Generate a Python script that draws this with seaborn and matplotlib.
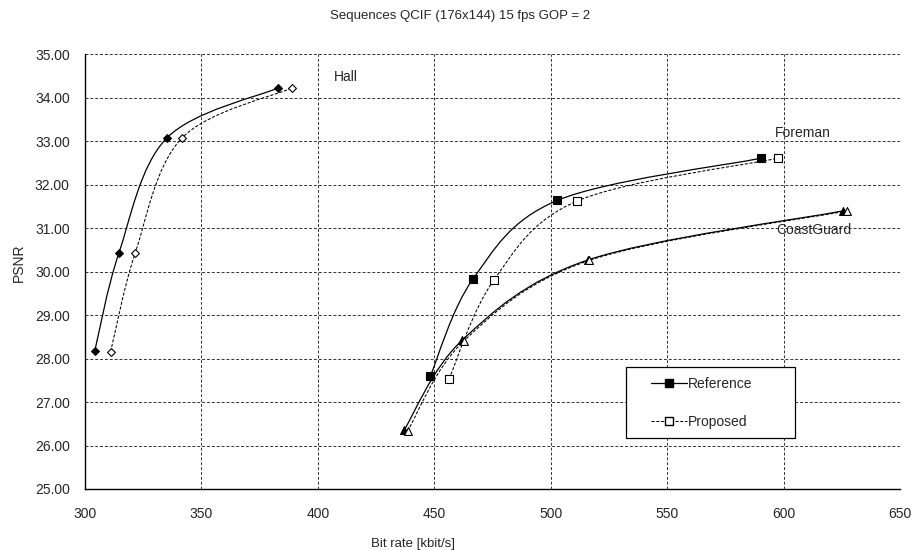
import numpy as np
import pandas as pd
import matplotlib
matplotlib.use("Agg")
import matplotlib.pyplot as plt
import seaborn as sns
from matplotlib.path import Path
from matplotlib.patches import PathPatch, Rectangle
from matplotlib.lines import Line2D

# valeurs
hall_ref_rate = [304.2, 314.5, 335.0, 383.0]
hall_ref_psnr = [28.18, 30.42, 33.07, 34.23]
hall_prop_rate = [311.0, 321.5, 341.5, 389.0]
hall_prop_psnr = [28.16, 30.42, 33.07, 34.23]

foreman_ref_rate = [448.3, 466.6, 502.8, 590.1]
foreman_ref_psnr = [27.60, 29.83, 31.64, 32.61]
foreman_prop_rate = [456.3, 475.5, 511.5, 597.4]
foreman_prop_psnr = [27.53, 29.80, 31.63, 32.61]

coast_ref_rate = [437.0, 462.1, 516.0, 625.6]
coast_ref_psnr = [26.35, 28.43, 30.27, 31.40]
coast_prop_rate = [438.5, 462.8, 516.6, 627.4]
coast_prop_psnr = [26.33, 28.41, 30.26, 31.40]

y_ticks = [25, 26, 27, 28, 29, 30, 31, 32, 33, 34, 35]
x_ticks = [300, 350, 400, 450, 500, 550, 600, 650]

series = [
    ("Hall", "Reference", hall_ref_rate, hall_ref_psnr, "D", 16),
    ("Hall", "Proposed", hall_prop_rate, hall_prop_psnr, "D", 16),
    ("Foreman", "Reference", foreman_ref_rate, foreman_ref_psnr, "s", 28),
    ("Foreman", "Proposed", foreman_prop_rate, foreman_prop_psnr, "s", 28),
    ("CoastGuard", "Reference", coast_ref_rate, coast_ref_psnr, "^", 32),
    ("CoastGuard", "Proposed", coast_prop_rate, coast_prop_psnr, "^", 32),
]


def smooth_path(x, y):
    # courbe lissée facon tableur (bezier type catmull-rom)
    pts = np.column_stack([x, y])
    n = len(pts)
    verts = [pts[0]]
    codes = [Path.MOVETO]
    for i in range(n - 1):
        p0 = pts[max(i - 1, 0)]
        p1 = pts[i]
        p2 = pts[i + 1]
        p3 = pts[min(i + 2, n - 1)]
        verts += [p1 + (p2 - p0) / 6, p2 - (p3 - p1) / 6, p2]
        codes += [Path.CURVE4] * 3
    return Path(verts, codes)


sns.set_style("white")
plt.rcParams['font.family'] = ['Liberation Sans', 'DejaVu Sans']

fig = plt.figure(figsize=(9.21, 5.5), dpi=100)
ax = fig.add_axes([0.0923, 0.111, 0.8849, 0.790])

dash = (0, (3, 1.6))
for seq, method, rate, psnr, marker, size in series:
    ref = method == "Reference"
    ls = "-" if ref else dash
    lw = 0.9 if ref else 0.75
    ax.add_patch(PathPatch(smooth_path(rate, psnr), facecolor="none",
                           edgecolor="black", lw=lw, linestyle=ls, zorder=3))
    df = pd.DataFrame({"rate": rate, "psnr": psnr})
    sns.scatterplot(data=df, x="rate", y="psnr", ax=ax, marker=marker, s=size,
                    color="black" if ref else "white", edgecolor="black",
                    linewidth=0.8, zorder=4)

ax.set_xlim(300, 650)
ax.set_ylim(25, 35)
ax.set_xticks(x_ticks)
ax.set_yticks(y_ticks)
ax.set_yticklabels([f"{v:.2f}" for v in y_ticks])
ax.tick_params(axis="y", length=5, width=0.8, direction="out", pad=6, labelsize=10, color="black")
ax.tick_params(axis="x", length=0, pad=13, labelsize=10)
ax.grid(True, color="#333333", linestyle=(0, (3, 2)), linewidth=0.7)
ax.set_axisbelow(True)
for s in ["top", "right"]:
    ax.spines[s].set_visible(False)
for s in ["left", "bottom"]:
    ax.spines[s].set_color("black")
    ax.spines[s].set_linewidth(1.0)

ax.set_xlabel("Bit rate [kbit/s]", fontsize=9.5)
ax.xaxis.set_label_coords(0.402, -0.112)
ax.set_ylabel("PSNR", fontsize=10)
ax.yaxis.set_label_coords(-0.073, 0.52)

ax.text(406.9, 34.48, "Hall", fontsize=10, va="center", ha="left")
ax.text(596.3, 33.2, "Foreman", fontsize=10, va="center", ha="left")
ax.text(596.7, 30.96, "CoastGuard", fontsize=10, va="center", ha="left")

fig.suptitle("Sequences QCIF (176x144) 15 fps GOP = 2", fontsize=9.5, x=0.5, y=0.982)

# cadre de la légende (taille fixe comme dans le tableur)
ax.add_patch(Rectangle((0.664, 0.117), 0.207, 0.163, transform=ax.transAxes,
                       facecolor="white", edgecolor="black", lw=0.9, zorder=5))
handles = [
    Line2D([], [], color="black", lw=0.9, marker="s", markersize=5.5,
           markerfacecolor="black", markeredgecolor="black"),
    Line2D([], [], color="black", lw=0.75, linestyle=dash, marker="s", markersize=5.5,
           markerfacecolor="white", markeredgecolor="black"),
]
leg = ax.legend(handles, ["Reference", "Proposed"], loc="upper left",
                bbox_to_anchor=(0.694, 0.257), borderaxespad=0, frameon=False,
                fontsize=10, handlelength=2.6, handletextpad=0.1, borderpad=0,
                labelspacing=1.7)
leg.set_zorder(6)

fig.savefig("out.png", dpi=100)
